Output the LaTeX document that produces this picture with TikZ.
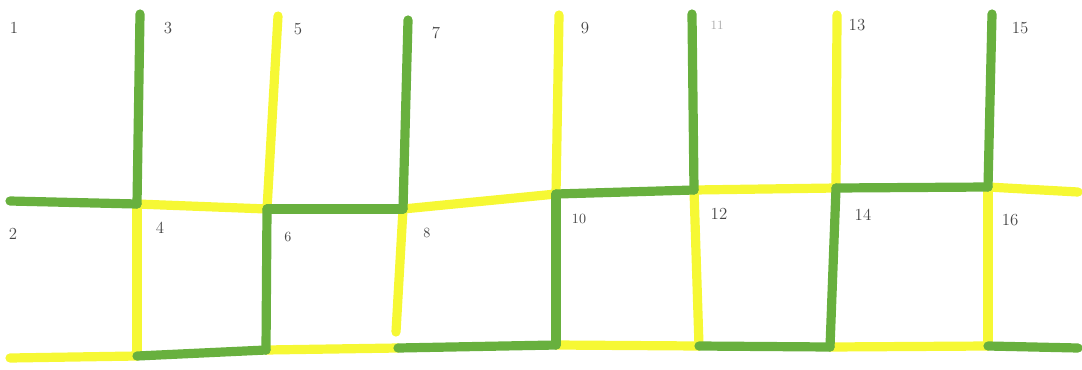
\documentclass[tikz,border=0pt]{standalone}
\usepackage{xcolor}
\usepackage{tikz}
\usetikzlibrary{positioning}

\definecolor{markgreen}{RGB}{104,176,62}
\definecolor{markyellow}{RGB}{246,248,52}
\definecolor{pencil}{RGB}{70,70,70}

\begin{document}
\begin{tikzpicture}[
    x=0.025cm, y=-0.025cm,
    grn/.style={draw=markgreen, line width=0.23cm, line cap=round},
    ylw/.style={draw=markyellow, line width=0.23cm, line cap=round},
    num/.style={text=pencil, font=\large, inner sep=0pt},
  ]
  \useasboundingbox (0,0) rectangle (1082,369);

  % top ends of the posts
  \coordinate (t3)  at (140,14);
  \coordinate (t5)  at (278,16);
  \coordinate (t7)  at (408,20);
  \coordinate (t9)  at (559,15);
  \coordinate (t11) at (692,14);
  \coordinate (t13) at (837,15);
  \coordinate (t15) at (992,14);

  % middle rail
  \coordinate (m0) at (10,201);
  \coordinate (m1) at (137,204);
  \coordinate (m2) at (267,209);
  \coordinate (m3) at (403,209);
  \coordinate (m4) at (556,194);
  \coordinate (m5) at (694,190);
  \coordinate (m6) at (836,188);
  \coordinate (m7) at (988,187);
  \coordinate (m8) at (1078,192);

  % bottom rail
  \coordinate (b0) at (10,358);
  \coordinate (b1) at (137,356);
  \coordinate (b2) at (266,350);
  \coordinate (b3) at (398,348);
  \coordinate (b4) at (556,345);
  \coordinate (b5) at (699,346);
  \coordinate (b6) at (830,347);
  \coordinate (b7) at (988,346);
  \coordinate (b8) at (1078,348);
  \coordinate (e8) at (396,332);

  % yellow strokes
  \draw[ylw] (t5) -- (m2);
  \draw[ylw] (t9) -- (m4);
  \draw[ylw] (t13) -- (m6);
  \draw[ylw] (m1) -- (b1);
  \draw[ylw] (m3) -- (e8);
  \draw[ylw] (m5) -- (b5);
  \draw[ylw] (m7) -- (b7);
  \draw[ylw] (m1) -- (m2);
  \draw[ylw] (m3) -- (m4);
  \draw[ylw] (m5) -- (m6);
  \draw[ylw] (m7) -- (m8);
  \draw[ylw] (b0) -- (b1);
  \draw[ylw] (b2) -- (b3);
  \draw[ylw] (b4) -- (b5);
  \draw[ylw] (b6) -- (b7);

  % green strokes
  \draw[grn] (t3) -- (m1);
  \draw[grn] (t7) -- (m3);
  \draw[grn] (t11) -- (m5);
  \draw[grn] (t15) -- (m7);
  \draw[grn] (m2) -- (b2);
  \draw[grn] (m4) -- (b4);
  \draw[grn] (m6) -- (b6);
  \draw[grn] (m0) -- (m1);
  \draw[grn] (m2) -- (m3);
  \draw[grn] (m4) -- (m5);
  \draw[grn] (m6) -- (m7);
  \draw[grn] (b1) -- (b2);
  \draw[grn] (b3) -- (b4);
  \draw[grn] (b5) -- (b6);
  \draw[grn] (b7) -- (b8);

  % plot numbers
  \node[num] (l1)  at (14,28)   {1};
  \node[num] (l3)  at (168,28)  {3};
  \node[num] (l5)  at (298,29)  {5};
  \node[num] (l7)  at (436,33)  {7};
  \node[num] (l9)  at (585,28)  {9};
  \node[num, text=pencil!45, font=\small] (l11) at (717,25) {11};
  \node[num] (l13) at (857,25)  {13};
  \node[num] (l15) at (1020,28) {15};
  \node[num] (l2)  at (13,234)  {2};
  \node[num] (l4)  at (160,228) {4};
  \node[num, font=\normalsize] (l6)  at (288,237) {6};
  \node[num, font=\normalsize] (l8)  at (427,233) {8};
  \node[num, font=\normalsize] (l10) at (579,219) {10};
  \node[num] (l12) at (719,214) {12};
  \node[num] (l14) at (863,215) {14};
  \node[num] (l16) at (1010,220) {16};
\end{tikzpicture}
\end{document}
